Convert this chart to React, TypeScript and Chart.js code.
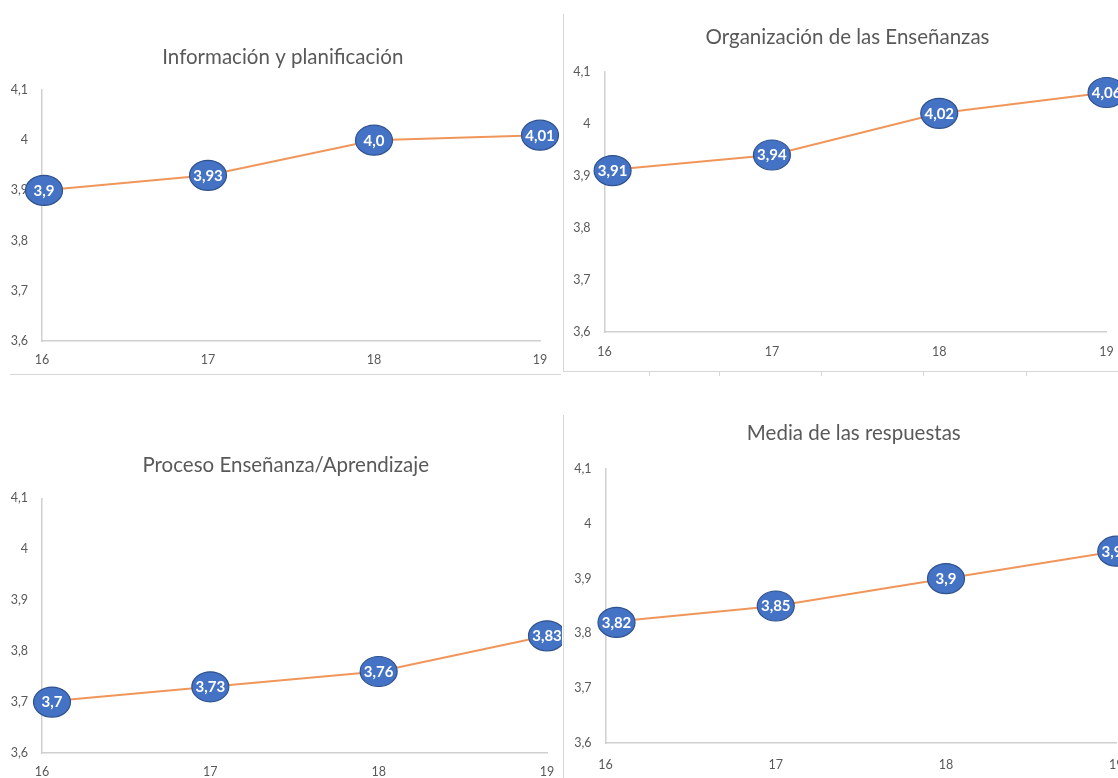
import React, { useEffect, useRef } from "react";
import { Chart, registerables } from "chart.js";

Chart.register(...registerables);

// ---------- data ----------
const years = ["16", "17", "18", "19"];
const yMin = 3.6;
const yMax = 4.1;
const yStep = 0.1;

const infoPlanificacion = [3.9, 3.93, 4.0, 4.01];
const organizacionEnsenanzas = [3.91, 3.94, 4.02, 4.06];
const procesoEnsenanza = [3.7, 3.73, 3.76, 3.83];
const mediaRespuestas = [3.82, 3.85, 3.9, 3.95];

const titles = [
  "Información y planificación",
  "Organización de las Enseñanzas",
  "Proceso Enseñanza/Aprendizaje",
  "Media de las respuestas",
];

// ---------- styling / layout ----------
const FONT = "Lato, 'Open Sans', sans-serif";
const GRAY_TEXT = "#595959";
const AXIS_COLOR = "#D0D0D0";
const LINE_COLOR = "#F0965A";
const BUBBLE_FILL = "#4472C4";
const BUBBLE_STROKE = "#2F528F";

type Layout = {
  left: number; // canvas position
  top: number;
  width: number;
  height: number;
  viewW: number; // visible width of the panel
  padL: number;
  padR: number;
  axisW: number; // y-axis box width
  rightW: number; // spacer to the right of the plot (keeps the title centred like the source)
  titleTop: number;
  titleBottom: number;
  xPad: number;
  firstShift: number;
};

const layouts: Layout[] = [
  { left: 0, top: 0, width: 560, height: 376, viewW: 560, padL: 6, padR: 0.4, axisW: 36, rightW: 19.6, titleTop: 44.7, titleBottom: 20.7, xPad: 11.4, firstShift: 2 },
  { left: 566, top: 0, width: 560, height: 367, viewW: 552, padL: 4, padR: 1, axisW: 34.6, rightW: 18, titleTop: 25.2, titleBottom: 21.9, xPad: 12.2, firstShift: 8 },
  { left: 0, top: 390, width: 566, height: 398, viewW: 562, padL: 6, padR: 0.6, axisW: 36, rightW: 18.4, titleTop: 63.5, titleBottom: 20.2, xPad: 11.2, firstShift: 10 },
  { left: 566, top: 390, width: 572, height: 388, viewW: 552, padL: 4, padR: 0.4, axisW: 35.5, rightW: 19.1, titleTop: 31.5, titleBottom: 22.9, xPad: 14.5, firstShift: 11 },
];

function formatTick(v: number | string): string {
  const n = Math.round(Number(v) * 10) / 10;
  return Number.isInteger(n) ? String(n) : n.toFixed(1).replace(".", ",");
}

function formatLabel(v: number): string {
  let s = v.toFixed(2);
  if (s.endsWith("0")) s = s.slice(0, -1);
  return s.replace(".", ",");
}

const bubbleLabels = {
  id: "bubbleLabels",
  afterDatasetsDraw(chart: any, _args: any, opts: any) {
    const ctx = chart.ctx as CanvasRenderingContext2D;
    const meta = chart.getDatasetMeta(0);
    const values = chart.data.datasets[0].data as number[];
    meta.data.forEach((pt: any, i: number) => {
      const x = pt.x + (i === 0 ? opts.firstShift || 0 : 0);
      const y = pt.y;
      ctx.save();
      ctx.beginPath();
      ctx.ellipse(x, y, 18.5, 15, 0, 0, Math.PI * 2);
      ctx.fillStyle = BUBBLE_FILL;
      ctx.fill();
      ctx.lineWidth = 1.2;
      ctx.strokeStyle = BUBBLE_STROKE;
      ctx.stroke();
      ctx.fillStyle = "#FFFFFF";
      ctx.font = `bold 15px ${FONT}`;
      ctx.textAlign = "center";
      ctx.textBaseline = "middle";
      ctx.fillText(formatLabel(values[i]), x, y + 0.5);
      ctx.restore();
    });
  },
};

function Panel({ title, values, layout }: { title: string; values: number[]; layout: Layout }) {
  const ref = useRef<HTMLCanvasElement>(null);
  useEffect(() => {
    if (!ref.current) return;
    const tickFont = { family: FONT, size: 12.5 };
    const chart = new Chart(ref.current, {
      type: "line",
      data: {
        labels: years,
        datasets: [
          {
            data: values,
            borderColor: LINE_COLOR,
            backgroundColor: LINE_COLOR,
            borderWidth: 2,
            pointRadius: 0,
            pointHoverRadius: 0,
            tension: 0,
            clip: false as any,
            yAxisID: "y",
          },
        ],
      },
      options: {
        responsive: false,
        animation: false,
        devicePixelRatio: 1,
        layout: { padding: { left: layout.padL, right: layout.padR, top: 0, bottom: 0 } },
        events: [],
        plugins: {
          legend: { display: false },
          tooltip: { enabled: false },
          title: {
            display: true,
            text: title,
            color: GRAY_TEXT,
            font: { family: FONT, size: 20.5, weight: "normal" as any },
            padding: { top: layout.titleTop, bottom: layout.titleBottom },
          },
          bubbleLabels: { firstShift: layout.firstShift },
        } as any,
        scales: {
          x: {
            type: "category",
            offset: false,
            grid: { display: false, drawTicks: false },
            border: { display: true, color: AXIS_COLOR, width: 1.5 },
            ticks: {
              color: GRAY_TEXT,
              font: tickFont,
              padding: layout.xPad,
              maxRotation: 0,
              autoSkip: false,
            },
            afterFit: (s: any) => {
              s.height = 35;
            },
          },
          y: {
            position: "left",
            min: yMin,
            max: yMax,
            grid: { display: false, drawTicks: false },
            border: { display: true, color: AXIS_COLOR, width: 1.5 },
            ticks: {
              stepSize: yStep,
              color: GRAY_TEXT,
              font: tickFont,
              padding: 14,
              callback: (v: any) => formatTick(v),
            },
            afterFit: (s: any) => {
              s.width = layout.axisW;
            },
          },
          spacer: {
            type: "linear",
            position: "right",
            display: true,
            grid: { display: false, drawTicks: false },
            border: { display: false },
            ticks: { display: false },
            afterFit: (s: any) => {
              s.width = layout.rightW;
            },
          },
        },
      },
      plugins: [bubbleLabels as any],
    });
    return () => chart.destroy();
  }, [title, values, layout]);

  return (
    <div
      style={{
        position: "absolute",
        left: layout.left,
        top: layout.top,
        width: layout.viewW,
        height: layout.height,
        overflow: "hidden",
      }}
    >
      <canvas
        ref={ref}
        width={layout.width}
        height={layout.height}
        style={{ display: "block", width: layout.width, height: layout.height }}
      />
    </div>
  );
}

const lineStyle = (left: number, top: number, width: number, height: number): React.CSSProperties => ({
  position: "absolute",
  left,
  top,
  width,
  height,
  background: "#D6D6D6",
});

export default function App() {
  const series = [infoPlanificacion, organizacionEnsenanzas, procesoEnsenanza, mediaRespuestas];
  return (
    <div
      style={{
        position: "absolute",
        left: 0,
        top: 0,
        width: 1118,
        height: 778,
        overflow: "hidden",
        background: "#FFFFFF",
      }}
    >
      {series.map((vals, i) => (
        <Panel key={i} title={titles[i]} values={vals} layout={layouts[i]} />
      ))}
      {/* screenshot frame edges */}
      <div style={lineStyle(10, 374, 551, 1)} />
      <div style={lineStyle(563, 14, 1, 358)} />
      <div style={lineStyle(563, 371, 555, 1)} />
      {[649, 719, 821, 923, 1026].map((x) => (
        <div key={x} style={lineStyle(x, 372, 1, 4)} />
      ))}
      <div style={lineStyle(563, 415, 1, 363)} />
    </div>
  );
}
